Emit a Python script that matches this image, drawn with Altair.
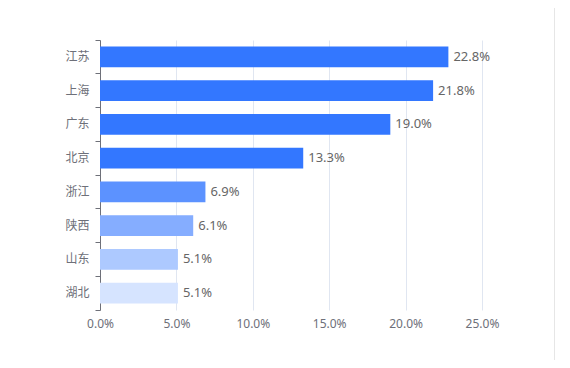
import altair as alt
import pandas as pd

regions = ["江苏", "上海", "广东", "北京", "浙江", "陕西", "山东", "湖北"]
shares = [22.8, 21.8, 19.0, 13.3, 6.9, 6.1, 5.1, 5.1]
palette = ["#3377ff", "#3377ff", "#3377ff", "#3377ff", "#5c92ff", "#85adff", "#adc9ff", "#d6e4ff"]
x_ticks = [0, 5, 10, 15, 20, 25]

df = pd.DataFrame({"region": regions, "share": shares})

FONT = "Noto Sans, Noto Sans CJK SC"
AXIS_GRAY = "#6E7079"

y_enc = alt.Y(
    "region:N",
    sort=regions,
    scale=alt.Scale(paddingInner=0, paddingOuter=0),
    axis=alt.Axis(
        title=None,
        domainColor=AXIS_GRAY,
        tickColor=AXIS_GRAY,
        tickSize=5,
        bandPosition=1,
        tickExtra=True,
        labelColor=AXIS_GRAY,
        labelFontSize=12,
        labelFont=FONT,
        labelPadding=6,
        grid=False,
    ),
)

x_enc = alt.X(
    "share:Q",
    scale=alt.Scale(domain=[0, 25], nice=False),
    axis=alt.Axis(
        title=None,
        values=x_ticks,
        labelExpr="format(datum.value, '.1f') + '%'",
        labelFlush=False,
        domain=False,
        ticks=False,
        grid=True,
        gridColor="#E0E6F1",
        labelColor=AXIS_GRAY,
        labelFontSize=12,
        labelFont=FONT,
        labelPadding=8,
    ),
)

bars = alt.Chart(df).mark_bar(height=alt.RelativeBandSize(0.62)).encode(
    y=y_enc,
    x=x_enc,
    color=alt.Color("region:N", scale=alt.Scale(domain=regions, range=palette), legend=None),
)

labels = alt.Chart(df).transform_calculate(
    lbl="format(datum.share, '.1f') + '%'"
).mark_text(
    align="left", baseline="middle", dx=5, fontSize=13, font=FONT, color="#666666"
).encode(
    y=alt.Y("region:N", sort=regions),
    x="share:Q",
    text="lbl:N",
)

edge = alt.Chart(df).mark_rule(color="#e6e6e6", strokeWidth=1).encode(
    x=alt.value(454.5), y=alt.value(-40), y2=alt.value(320)
)

chart = (
    alt.layer(bars, labels, edge)
    .properties(
        width=382,
        height=270,
        autosize=alt.AutoSizeParams(type="none"),
        padding={"left": 92, "top": 32, "right": 80, "bottom": 50},
    )
    .configure_view(stroke=None)
)

chart.save("out.html", embed_options={"renderer": "svg", "actions": False})
